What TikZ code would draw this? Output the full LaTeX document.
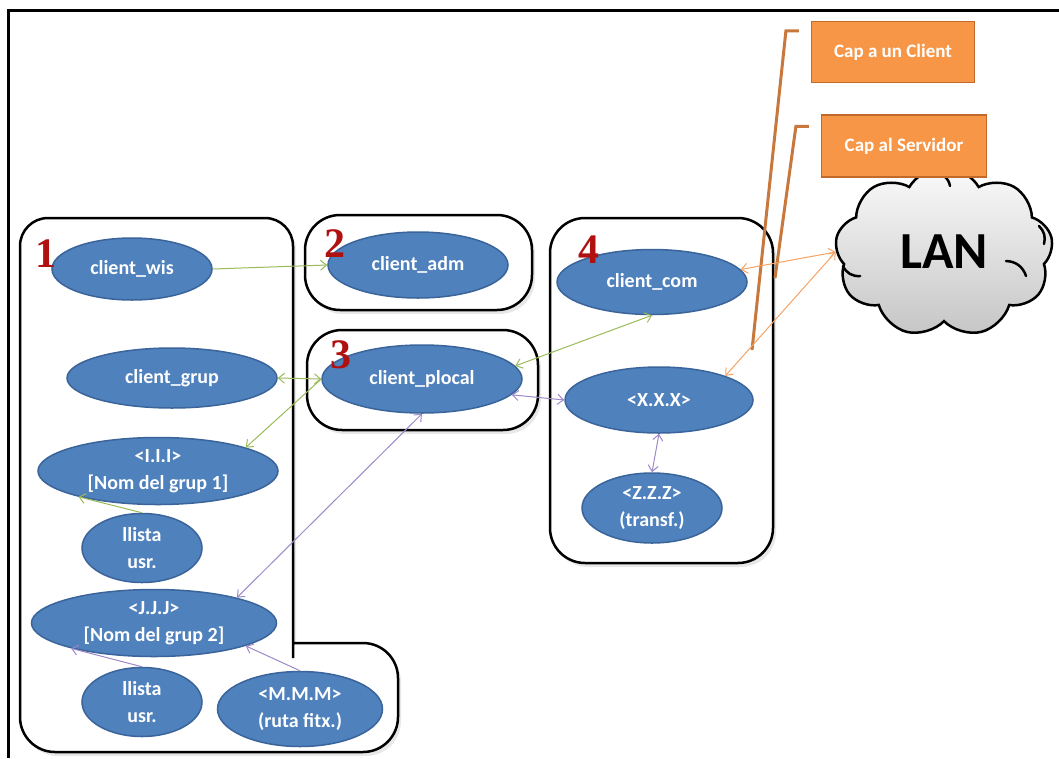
\documentclass[tikz,border=0pt]{standalone}
\usepackage{fontspec}
\setmainfont{Carlito}
\newfontfamily\numfont{Liberation Serif}
\usetikzlibrary{shapes.geometric,shapes.symbols,arrows.meta,shadows}
\definecolor{ofblue}{HTML}{4F81BD}
\definecolor{ofbord}{HTML}{3A649A}
\definecolor{ofgreen}{HTML}{9BBB59}
\definecolor{ofpurple}{HTML}{9E88C8}
\definecolor{oforange}{HTML}{F7A262}
\definecolor{capfill}{HTML}{F79646}
\definecolor{capbord}{HTML}{C26A2A}
\definecolor{capline}{HTML}{C8783C}
\definecolor{numred}{HTML}{B01010}
\tikzset{
  proc/.style={ellipse, draw=ofbord, fill=ofblue, line width=1.5pt, text=white,
    font=\bfseries\fontsize{20}{27}\selectfont, align=center, inner sep=0pt},
  sz/.style 2 args={minimum width=#1pt, minimum height=#2pt},
  grpbox/.style={draw=black, line width=2.5pt, fill=white,
    drop shadow={shadow xshift=3pt, shadow yshift=-4pt, opacity=.18}},
  grpnum/.style={text=numred, anchor=base, inner sep=0pt,
    font=\numfont\bfseries\fontsize{42}{42}\selectfont},
  capbox/.style={rectangle, draw=capbord, fill=capfill, line width=1.2pt, text=white,
    font=\bfseries\fontsize{19}{22}\selectfont, minimum width=163pt, minimum height=61pt},
  capcall/.style={draw=capline, line width=3pt},
  curl/.style={draw=black, line width=2.5pt, line cap=round}
}

\begin{document}
\begin{tikzpicture}[x=1pt, y=-1pt, >={Straight Barb[length=6pt,width=10pt]}]

  \useasboundingbox (0,0) rectangle (1059,758);
  \draw[line width=3pt] (8,758) -- (8,10) -- (1059,10);

  \draw[grpbox, rounded corners=28pt] (20,480) |- (293,218) -- (293,630)
    [sharp corners] -- (293,643) -- (340,643) [rounded corners=35pt] -| (398,752) -| (20,480) -- cycle;
  \node[grpbox, rounded corners=35pt, minimum width=227pt, minimum height=95pt] (b2) at (418.5,262.5) {};
  \node[grpbox, rounded corners=35pt, minimum width=231pt, minimum height=100pt] (b3) at (422.5,380) {};
  \node[grpbox, rounded corners=35pt, minimum width=223pt, minimum height=345pt] (b4) at (661.5,390.5) {};

  \begin{scope}[every node/.style={proc}]
    \node[sz={160}{62}]  (wis)    at (132,269) {client\_wis};
    \node[sz={210}{60}]  (grup)   at (172,378) {client\_grup};
    \node[sz={240}{67}]  (ii)     at (158,471) {<I.I.I>\\{}[Nom del grup 1]};
    \node[sz={120}{69}]  (llus1)  at (142,548) {llista\\usr.};
    \node[sz={245}{67}]  (jj)     at (154,623) {<J.J.J>\\{}[Nom del grup 2]};
    \node[sz={120}{69}]  (llus2)  at (142,702) {llista\\usr.};
    \node[sz={165}{75}]  (mm)     at (300,709) {<M.M.M>\\(ruta fitx.)};
    \node[sz={180}{66}]  (adm)    at (418,265) {client\_adm};
    \node[sz={200}{68}]  (plocal) at (422,379) {client\_plocal};
    \node[sz={190}{65}]  (com)    at (652,282) {client\_com};
    \node[sz={188}{66}]  (xx)     at (659,400) {<X.X.X>};
    \node[sz={140}{70}]  (zz)     at (652,508) {<Z.Z.Z>\\(transf.)};
  \end{scope}

  \node[grpnum] (n1) at (46,267)  {1};
  \node[grpnum] (n2) at (335,257) {2};
  \node[grpnum] (n3) at (341,368) {3};
  \node[grpnum] (n4) at (589,263) {4};

  \node[cloud, cloud puffs=9, cloud puff arc=120, aspect=1.3, draw=black, line width=2.5pt,
    top color=gray!4, bottom color=gray!45, minimum width=218pt, minimum height=170pt,
    font=\bfseries\fontsize{52}{52}\selectfont] (lan) at (944,252) {LAN};
  \draw[curl] (843,266) to[bend right=35] (860,276);
  \draw[curl] (1006,261) to[bend left=35] (1026,276);
  \draw[curl] (1039,226) to[bend left=30] (1044,244);
  \draw[curl] (944,176) to[bend left=20] (950,186);

  \node[capbox] (capcli) at (893,52)  {Cap a un Client};
  \node[capbox, minimum width=165pt, minimum height=62pt] (capsrv) at (904,146) {Cap al Servidor};
  \coordinate (capcliend) at (752,350);
  \coordinate (capsrvend) at (775,278);
  \draw[capcall] ([xshift=-12pt,yshift=-10pt]capcli.north west) -- ++(-13,0) -- (capcliend);
  \draw[capcall] ([xshift=-12pt,yshift=-12pt]capsrv.north west) -- ++(-13,0) -- (capsrvend);

  \begin{scope}[every edge/.style={draw, line width=1pt}]
    \path (wis.east)    edge[ofgreen, ->]  (adm.west);
    \path (grup.east)   edge[ofgreen, <->] (plocal.west);
    \path (plocal.west) edge[ofgreen, ->]  (ii.15);
    \path (llus1.north) edge[ofgreen, ->]  (ii.198);
    \path (plocal.8)    edge[ofgreen, <->] (com.south);
    \path (plocal.south) edge[ofpurple, <->] (jj.17);
    \path (plocal.-10)  edge[ofpurple, <->] (xx.west);
    \path (xx.south)    edge[ofpurple, <->] (zz.north);
    \path (llus2.north) edge[ofpurple, ->]  (jj.197);
    \path (mm.north)    edge[ofpurple, ->]  (jj.-14);
    \path (com.8)       edge[oforange, <->] (lan.west);
    \path (xx.20)       edge[oforange, <->] (lan.west);
  \end{scope}

\end{tikzpicture}
\end{document}
